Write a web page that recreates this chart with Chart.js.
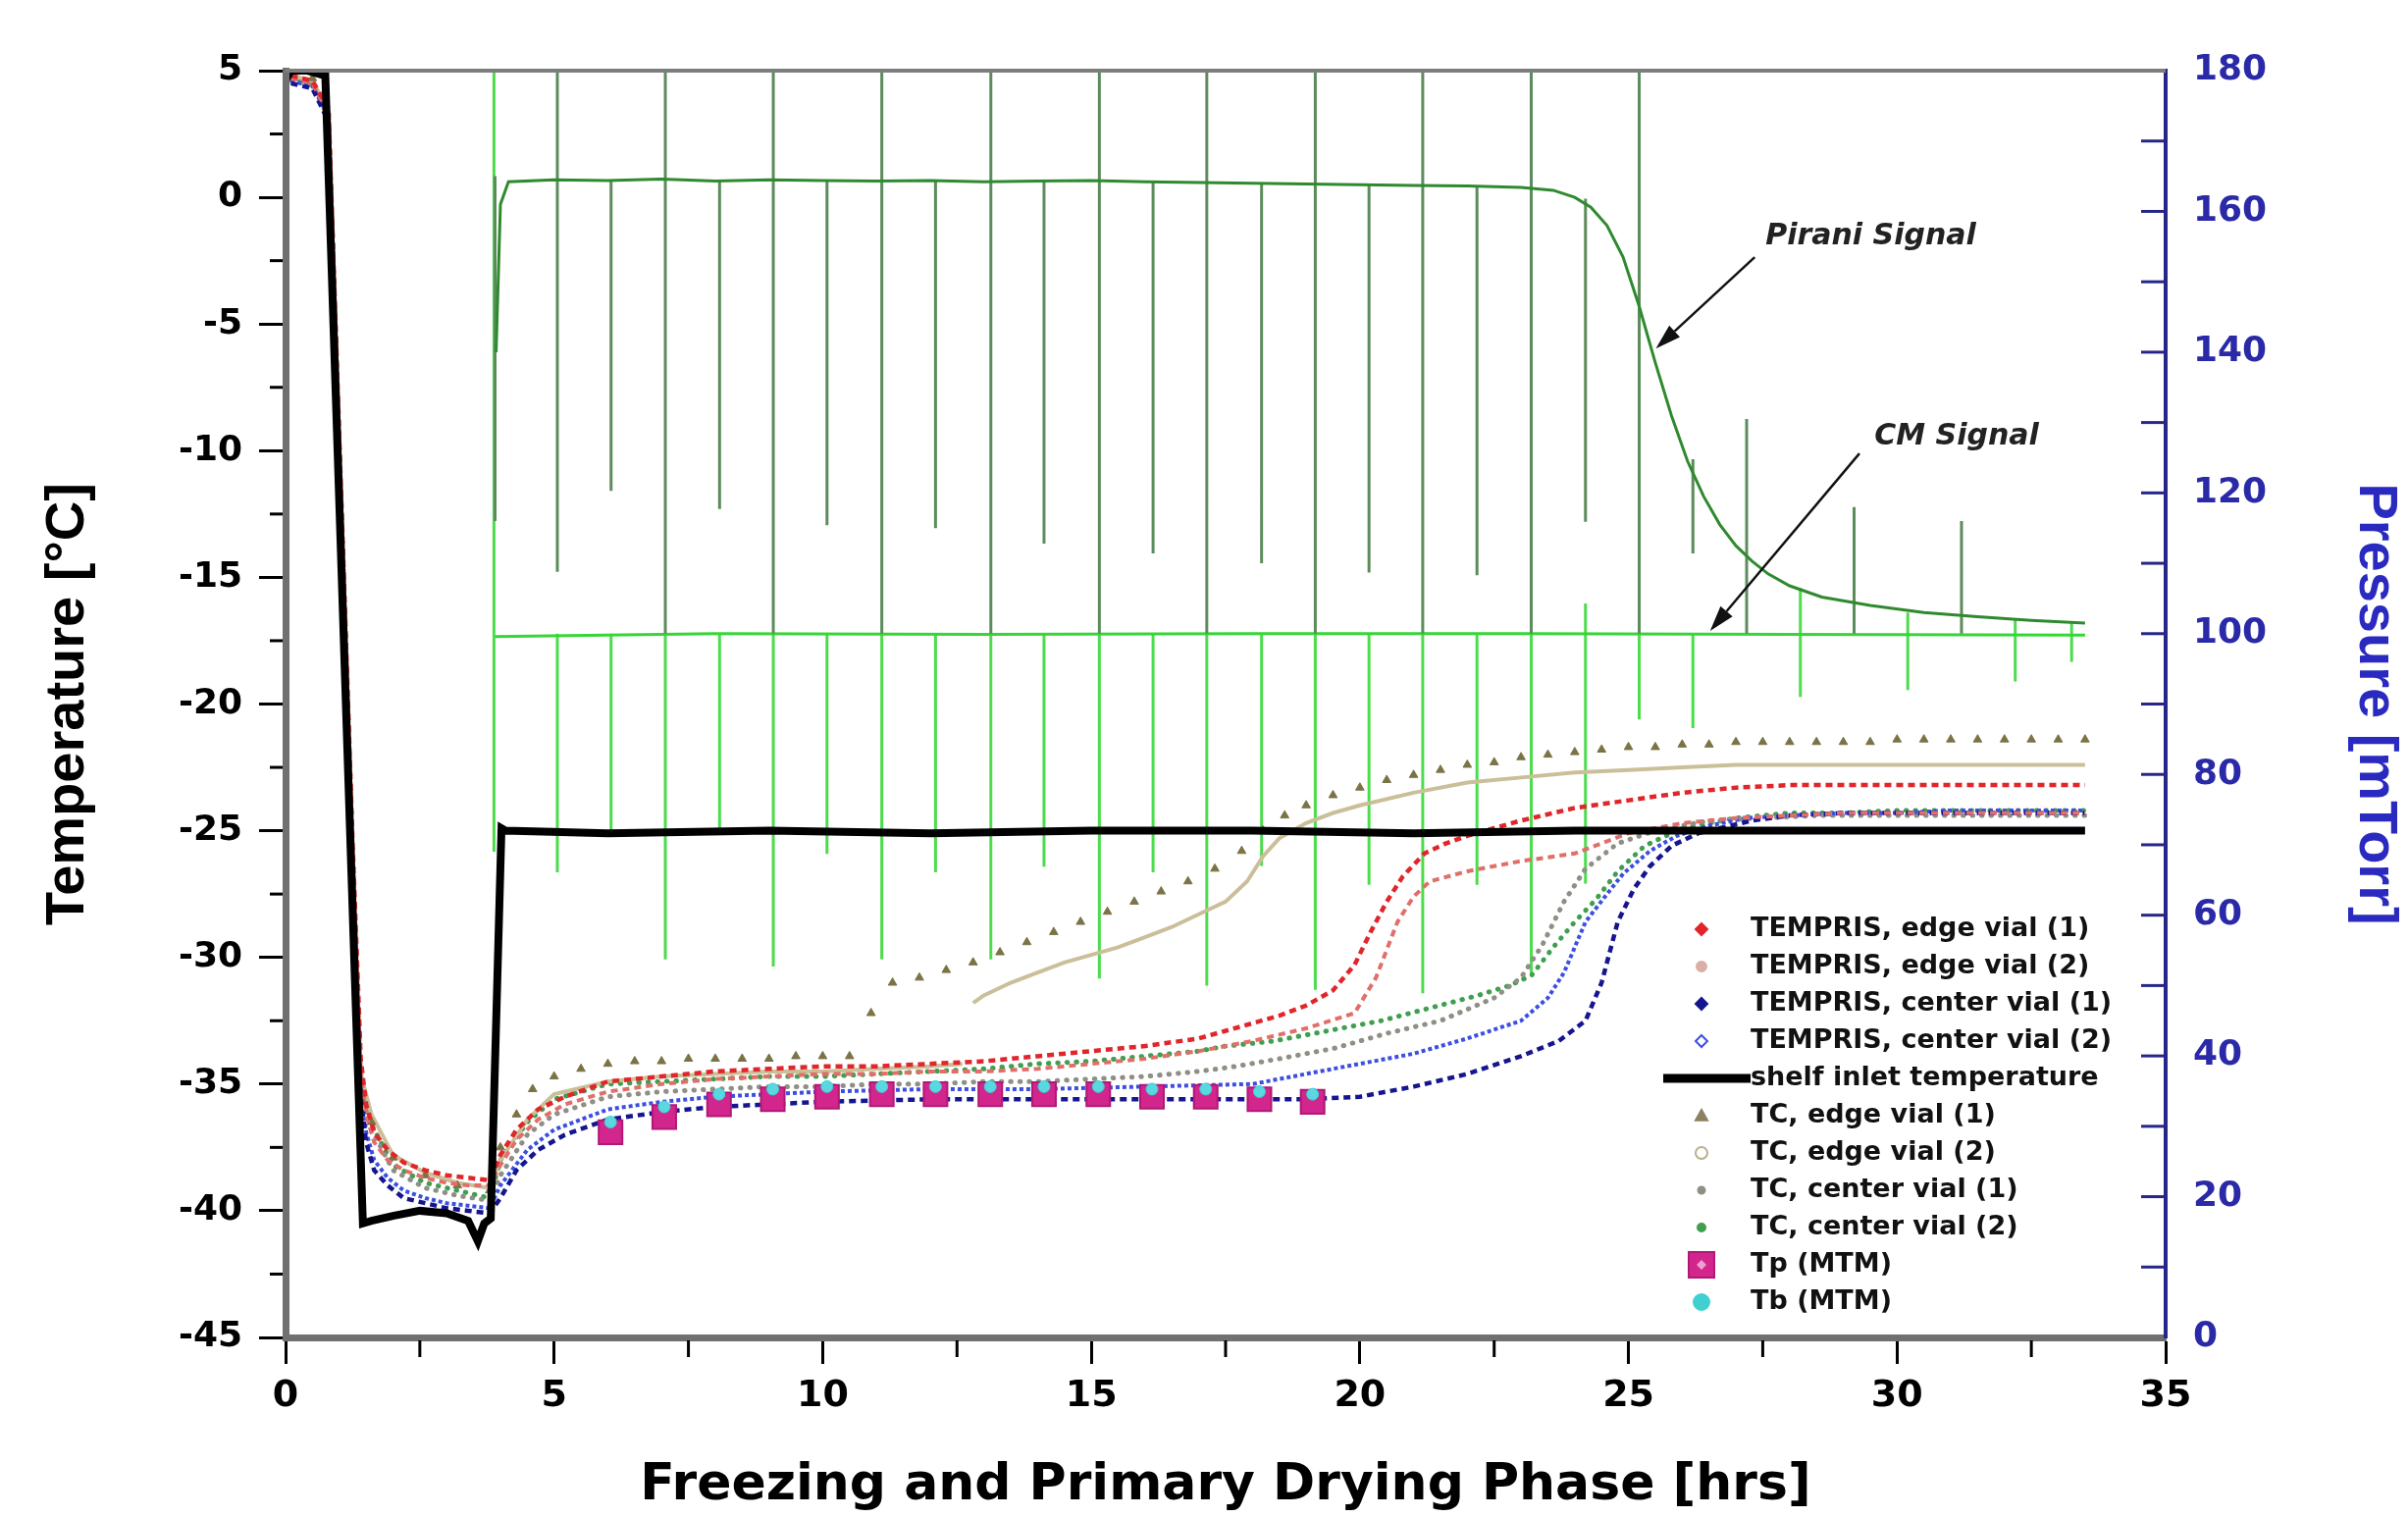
<!DOCTYPE html>
<html><head><meta charset="utf-8">
<script src="https://cdn.jsdelivr.net/npm/chart.js@4.4.0/dist/chart.umd.min.js"></script>
<style>html,body{margin:0;padding:0;background:#fff}canvas{display:block}</style>
</head><body>
<canvas id="c" width="2454" height="1546" style="width:2454px;height:1546px"></canvas>
<script>
// ---------------- data ----------------
const hoursEdge1 = [0.1,0.5,0.8,0.95,1.1,1.25,1.4,1.5,1.65,1.9,2.2,2.6,3.0,3.4,3.8,4.0,4.3,4.7,5.2,6,7,8,9,10,11,12,13,14,15,16,17,18,18.5,19,19.5,19.9,20.2,20.5,20.8,21.2,21.6,22,22.5,23,24,25,26,27,28,29,30,31,32,33,33.5];
const tempEdge1  = [4.8,4.6,3.5,-6.2,-15.9,-25.6,-34.0,-35.8,-36.9,-37.6,-38.1,-38.4,-38.6,-38.7,-38.8,-37.8,-36.8,-36.0,-35.5,-34.9,-34.7,-34.5,-34.4,-34.3,-34.3,-34.2,-34.1,-33.9,-33.7,-33.5,-33.2,-32.6,-32.3,-31.9,-31.3,-30.3,-29.0,-27.8,-26.8,-25.9,-25.5,-25.2,-24.9,-24.6,-24.1,-23.8,-23.5,-23.3,-23.2,-23.2,-23.2,-23.2,-23.2,-23.2,-23.2];

const hoursEdge2 = [0.1,0.5,0.8,0.95,1.1,1.25,1.4,1.5,1.65,1.9,2.2,2.6,3.0,3.4,3.8,4.0,4.3,4.7,5.2,6,7,8,9,10,11,12,13,14,15,16,17,18,19,19.9,20.3,20.7,21.0,21.3,22,23,24,25,26,27,28,29,30,31,32,33,33.5];
const tempEdge2  = [4.7,4.5,3.3,-6.5,-16.2,-26,-34.4,-36.2,-37.3,-38.0,-38.4,-38.7,-38.9,-39.0,-39.0,-38.2,-37.2,-36.4,-35.8,-35.3,-35.0,-34.8,-34.7,-34.6,-34.6,-34.5,-34.5,-34.4,-34.2,-34.0,-33.7,-33.3,-32.8,-32.2,-30.8,-28.6,-27.6,-27.0,-26.6,-26.2,-25.9,-25.1,-24.7,-24.5,-24.4,-24.3,-24.3,-24.3,-24.3,-24.3,-24.3];

const hoursCenter1 = [0.1,0.5,0.8,0.95,1.1,1.25,1.4,1.5,1.65,1.9,2.2,2.6,3.0,3.4,3.8,4.0,4.3,4.7,5.2,6,7,8,9,10,12,14,16,18,19,20,21,22,23,23.7,24.2,24.5,24.8,25.1,25.4,25.8,26.3,27.3,28,29,30,31,32,33,33.5];
const tempCenter1  = [4.5,4.3,3.0,-7,-17,-27,-35.5,-37.3,-38.4,-39.0,-39.5,-39.7,-39.9,-40.0,-40.1,-39.5,-38.4,-37.6,-37.0,-36.4,-36.1,-35.9,-35.8,-35.7,-35.6,-35.6,-35.6,-35.6,-35.6,-35.5,-35.1,-34.6,-33.9,-33.3,-32.5,-31.0,-28.6,-27.3,-26.4,-25.6,-25.1,-24.6,-24.4,-24.3,-24.3,-24.3,-24.3,-24.3,-24.3];

const hoursCenter2 = [0.1,0.5,0.8,0.95,1.1,1.25,1.4,1.5,1.65,1.9,2.2,2.6,3.0,3.4,3.8,4.0,4.5,5,6,7,8,10,12,14,16,18,19,20,21,22,23,23.5,23.8,24.2,24.6,24.9,25.4,25.9,26.5,27.2,28,29,30,31,32,33,33.5];
const tempCenter2  = [4.6,4.4,3.2,-6.8,-16.6,-26.5,-35.0,-36.9,-38.0,-38.7,-39.2,-39.5,-39.7,-39.8,-39.9,-39.0,-37.6,-36.8,-36.0,-35.7,-35.5,-35.3,-35.2,-35.2,-35.1,-35.0,-34.6,-34.2,-33.8,-33.2,-32.5,-31.6,-30.6,-28.6,-27.5,-26.7,-25.8,-25.2,-24.8,-24.5,-24.4,-24.3,-24.3,-24.2,-24.2,-24.2,-24.2];

const hoursShelf = [0,0.1,0.4,0.74,1.44,1.6,2.0,2.5,3.0,3.4,3.58,3.7,3.82,4.02,4.1,6,9,12,15,18,21,24,27,30,33.5];
const tempShelf  = [4.6,5.0,5.0,4.8,-40.5,-40.4,-40.2,-40.0,-40.1,-40.4,-41.2,-40.5,-40.3,-24.9,-25.0,-25.1,-25.0,-25.1,-25.0,-25.0,-25.1,-25.0,-25.0,-25.0,-25.0];

const hoursTcEdge1 = [0.1,0.5,1.6,2.0,2.6,3.2,3.8,4.0,4.3,4.6,5.0,5.5,6.0,6.5,7.0,7.5,8.0,8.5,9.0,9.5,10.0,10.5,10.9,11.3,11.8,12.3,12.8,13.3,13.8,14.3,14.8,15.3,15.8,16.3,16.8,17.3,17.8,18.2,18.6,19.0,19.5,20.0,20.5,21.0,21.5,22.0,22.5,23.0,23.5,24.0,24.5,25.0,25.5,26.0,26.5,27.0,27.5,28.0,28.5,29.0,29.5,30.0,30.5,31.0,31.5,32.0,32.5,33.0,33.5];
const tempTcEdge1  = [4.9,4.7,-36.5,-37.9,-38.6,-39.0,-39.2,-37.5,-36.2,-35.2,-34.7,-34.4,-34.2,-34.1,-34.1,-34.0,-34.0,-34.0,-34.0,-33.9,-33.9,-33.9,-32.2,-31.0,-30.8,-30.5,-30.2,-29.8,-29.4,-29.0,-28.6,-28.2,-27.8,-27.4,-27.0,-26.5,-25.8,-25.0,-24.4,-24.0,-23.6,-23.3,-23.0,-22.8,-22.6,-22.4,-22.3,-22.1,-22.0,-21.9,-21.8,-21.7,-21.7,-21.6,-21.6,-21.5,-21.5,-21.5,-21.5,-21.5,-21.5,-21.4,-21.4,-21.4,-21.4,-21.4,-21.4,-21.4,-21.4];

const hoursTcEdge2 = [0.1,0.5,0.8,0.95,1.1,1.25,1.4,1.6,2.0,2.6,3.2,3.8,4.0,4.5,5,6,7,8,9,10,11,12,12.6,12.7,12.8,13.0,13.5,14,14.5,15,15.5,16,16.5,17,17.5,17.9,18.2,18.5,19,19.5,20,21,22,23,24,25,26,27,28,30,32,33.5];
const tempTcEdge2  = [4.8,4.6,3.4,-6.4,-16,-25.8,-34.6,-36.2,-37.8,-38.5,-38.9,-39.1,-38.0,-36.4,-35.4,-34.9,-34.7,-34.6,-34.5,-34.5,-34.4,-34.3,-34.2,null,-31.8,-31.5,-31.0,-30.6,-30.2,-29.9,-29.6,-29.2,-28.8,-28.3,-27.8,-27.0,-26.0,-25.3,-24.7,-24.3,-24.0,-23.5,-23.1,-22.9,-22.7,-22.6,-22.5,-22.4,-22.4,-22.4,-22.4,-22.4];

const hoursTcCenter1 = [0.1,0.5,0.8,0.95,1.1,1.25,1.4,1.6,2.0,2.6,3.2,3.8,4.0,4.5,5,6,7,8,9,10,11,12,13,14,15,16,17,17.7,18.5,19.5,20.5,21.5,22.5,23.0,23.4,23.8,24.2,24.8,25.5,26.5,27.5,28.5,29.5,30.5,31.5,32.5,33.5];
const tempTcCenter1  = [4.6,4.4,3.2,-6.8,-16.5,-26.3,-35.2,-36.8,-38.4,-39.1,-39.4,-39.6,-38.6,-37.0,-36.2,-35.5,-35.3,-35.2,-35.1,-35.1,-35.0,-35.0,-34.9,-34.9,-34.8,-34.7,-34.5,-34.3,-34.0,-33.6,-33.0,-32.5,-31.6,-30.8,-29.5,-27.8,-26.5,-25.5,-25.0,-24.6,-24.5,-24.4,-24.4,-24.4,-24.4,-24.4,-24.4];

const hoursTcCenter2 = [0.1,0.5,0.8,0.95,1.1,1.25,1.4,1.6,2.0,2.6,3.2,3.8,4.0,4.5,5,6,7,8,9,10,11,12,13,14,15,16,17,17.5,18.4,19.4,20.4,21.3,22.2,22.8,23.2,23.6,24.0,24.4,24.8,25.3,26,27,28,29,30,31,32,33,33.5];
const tempTcCenter2  = [4.7,4.5,3.3,-6.6,-16.3,-26,-35,-36.6,-38.2,-38.9,-39.2,-39.5,-38.0,-36.5,-35.6,-35.0,-34.9,-34.8,-34.7,-34.7,-34.6,-34.5,-34.4,-34.2,-34.1,-33.9,-33.7,-33.5,-33.3,-32.9,-32.5,-32.0,-31.5,-31.1,-30.7,-29.6,-28.6,-27.7,-26.6,-25.6,-24.9,-24.5,-24.3,-24.3,-24.2,-24.2,-24.2,-24.2,-24.2];

const hoursMtm = [6.05,7.05,8.07,9.07,10.08,11.1,12.1,13.12,14.12,15.13,16.13,17.13,18.13,19.12];
const tempTp   = [-36.9,-36.3,-35.8,-35.6,-35.5,-35.4,-35.4,-35.4,-35.4,-35.4,-35.5,-35.5,-35.6,-35.7];
const tempTb   = [-36.5,-35.9,-35.4,-35.2,-35.1,-35.1,-35.1,-35.1,-35.1,-35.1,-35.2,-35.2,-35.3,-35.4];

const piraniHours  = [3.92,4.0,4.15,5,6,7,8,9,10,11,12,13,14,15,16,17,18,19,20,21,22,23,23.6,24.0,24.3,24.6,24.9,25.2,25.5,25.8,26.1,26.4,26.7,27.0,27.3,27.6,28.0,28.6,29.5,30.5,31.5,32.5,33.5];
const piraniValues = [140,161,164.2,164.5,164.4,164.6,164.3,164.5,164.4,164.3,164.4,164.2,164.3,164.4,164.2,164.1,164.0,163.9,163.8,163.7,163.6,163.4,163.0,162.0,160.6,158.0,153.5,146.5,138.5,131.0,124.5,119.5,115.5,112.5,110.3,108.5,106.8,105.2,104.0,103.0,102.4,101.9,101.5];
const piraniSpikeHours  = [3.9,5.06,6.06,7.07,8.08,9.08,10.08,11.1,12.1,13.13,14.12,15.15,16.15,17.15,18.17,19.17,20.17,21.17,22.18,23.19,24.2,25.2,26.2,27.2,29.2,31.2];
const piraniSpikeTop    = [165,182,164.4,182,164.5,182,164.4,182,164.4,182,164.3,182,164.2,182,164.0,182,163.8,182,163.6,182,161.8,182,124.8,130.5,118,116];
const piraniSpikeBottom = [116,108.8,120.3,100,117.7,100,115.4,100,115,100,112.8,100,111.4,100,110,100,108.7,100,108.3,100,115.9,100,111.4,100,100,100];

const cmHours  = [3.9,8,13,18,23,28,33.5];
const cmValues = [99.6,100,99.9,100,100,99.9,99.8];
const cmSpikeHours  = [3.88,5.06,6.06,7.07,8.08,9.08,10.08,11.1,12.1,13.13,14.12,15.15,16.15,17.15,18.17,19.17,20.17,21.17,22.18,23.19,24.2,25.2,26.2,28.2,30.2,32.2,33.25];
const cmSpikeTop    = [182,100,100,100,100,100,100,100,100,100,100,100,100,100,100,100,100,100,100,100,104.3,100,100,106.5,103,102,101.5];
const cmSpikeBottom = [69,66.1,71.4,53.7,71.4,52.7,68.7,53.7,66.1,53.7,66.9,51,66.1,50,67,49.4,64.3,48.9,64.3,51.4,64.5,87.8,86.6,91,92,93.2,96];

const xMinorTicks = [2.5,7.5,12.5,17.5,22.5,27.5,32.5];
const tempMinorTicks = [2.5,-2.5,-7.5,-12.5,-17.5,-22.5,-27.5,-32.5,-37.5,-42.5];
const pressureTicks = [10,20,30,40,50,60,70,80,90,100,110,120,130,140,150,160,170];

const annotationLabels   = ['Pirani Signal','CM Signal'];
const annotationHours    = [27.55,29.58];
const annotationPressure = [156.4,128];
const arrowFromHours = [27.35,29.3], arrowFromPressure = [153.5,125.6];
const arrowToHours   = [25.51,26.52], arrowToPressure   = [140.5,100.4];

// ---------------- helpers ----------------
const pts = (ts, vs) => ts.map((t, i) => ({x: t, y: vs[i]}));
const spikes = (ts, hi, lo) => { const o = []; ts.forEach((t, i) => { o.push({x: t, y: hi[i]}, {x: t, y: lo[i]}, {x: t, y: null}); }); return o; };

const BLUE = '#2a2aa8';
const tickFont = {family: 'DejaVu Sans', weight: 'bold', size: 36};

const datasets = [
  {label:'TEMPRIS, edge vial (1)', data: pts(hoursEdge1,tempEdge1), yAxisID:'y', borderColor:'#e0262b', backgroundColor:'#e0262b', borderWidth:4.5, borderDash:[7,5], pointRadius:0, order:3,
   lg:{shape:'diamond', size:6, fill:'#e0262b', stroke:'#e0262b'}},
  {label:'TEMPRIS, edge vial (2)', data: pts(hoursEdge2,tempEdge2), yAxisID:'y', borderColor:'#e06f6a', backgroundColor:'#e06f6a', borderWidth:4, borderDash:[7,5], pointRadius:0, order:4,
   lg:{shape:'circle', size:5, fill:'#d8b0a8', stroke:'#d8b0a8'}},
  {label:'TEMPRIS, center vial (1)', data: pts(hoursCenter1,tempCenter1), yAxisID:'y', borderColor:'#15158f', backgroundColor:'#15158f', borderWidth:4.5, borderDash:[7,5], pointRadius:0, order:5,
   lg:{shape:'diamond', size:6, fill:'#15158f', stroke:'#15158f'}},
  {label:'TEMPRIS, center vial (2)', data: pts(hoursCenter2,tempCenter2), yAxisID:'y', borderColor:'#3c4fe0', backgroundColor:'#3c4fe0', borderWidth:4, borderDash:[4,3], pointRadius:0, order:6,
   lg:{shape:'diamond', size:6, fill:'#ffffff', stroke:'#3c4fe0'}},
  {label:'shelf inlet temperature', data: pts(hoursShelf,tempShelf), yAxisID:'y', borderColor:'#000', backgroundColor:'#000', borderWidth:8, pointRadius:0, order:2,
   lg:{shape:'line', size:9, stroke:'#000'}},
  {label:'TC, edge vial (1)', data: pts(hoursTcEdge1,tempTcEdge1), yAxisID:'y', showLine:false, pointStyle:'triangle', pointRadius:5, borderColor:'#7b7346', backgroundColor:'#7b7346', borderWidth:1, order:7,
   lg:{shape:'triangle', size:6, fill:'#8a8260', stroke:'#8a8260'}},
  {label:'TC, edge vial (2)', data: pts(hoursTcEdge2,tempTcEdge2), yAxisID:'y', borderColor:'#cbbf9a', backgroundColor:'#cbbf9a', borderWidth:4, pointRadius:0, spanGaps:false, order:8,
   lg:{shape:'circle', size:6, fill:'#ffffff', stroke:'#b8b090'}},
  {label:'TC, center vial (1)', data: pts(hoursTcCenter1,tempTcCenter1), yAxisID:'y', borderColor:'#8f8f86', backgroundColor:'#8f8f86', borderWidth:5, borderDash:[0.5,9], borderCapStyle:'round', pointRadius:0, order:9,
   lg:{shape:'circle', size:3.5, fill:'#8f8f86', stroke:'#8f8f86'}},
  {label:'TC, center vial (2)', data: pts(hoursTcCenter2,tempTcCenter2), yAxisID:'y', borderColor:'#3f9f4f', backgroundColor:'#3f9f4f', borderWidth:5, borderDash:[0.5,9], borderCapStyle:'round', pointRadius:0, order:10,
   lg:{shape:'circle', size:4, fill:'#3f9f4f', stroke:'#3f9f4f'}},
  {label:'Tp (MTM)', data: pts(hoursMtm,tempTp), yAxisID:'y', showLine:false, pointStyle:'rect', pointRadius:17, borderColor:'#b01878', backgroundColor:'#d3268d', borderWidth:2, order:1,
   lg:{shape:'square', size:13, fill:'#d3268d', stroke:'#b01878'}},
  {label:'Tb (MTM)', data: pts(hoursMtm,tempTb), yAxisID:'y', showLine:false, pointStyle:'circle', pointRadius:6, borderColor:'#39d0d8', backgroundColor:'#5ad8e0', borderWidth:1, order:0,
   lg:{shape:'circle', size:8, fill:'#40d0d0', stroke:'#40d0d0'}},
  {label:'Pirani Signal', data: pts(piraniHours,piraniValues), yAxisID:'y2', borderColor:'#2f8a2f', borderWidth:3, pointRadius:0, order:11},
  {label:'Pirani spikes', data: spikes(piraniSpikeHours,piraniSpikeTop,piraniSpikeBottom), yAxisID:'y2', borderColor:'#5c8c5c', borderWidth:3, pointRadius:0, spanGaps:false, order:12},
  {label:'CM Signal', data: pts(cmHours,cmValues), yAxisID:'y2', borderColor:'#36d636', borderWidth:3, pointRadius:0, order:13},
  {label:'CM spikes', data: spikes(cmSpikeHours,cmSpikeTop,cmSpikeBottom), yAxisID:'y2', borderColor:'#4cdc4c', borderWidth:3, pointRadius:0, spanGaps:false, order:14}
];

function marker(ctx, m, x, y) {
  ctx.save();
  ctx.fillStyle = m.fill || m.stroke; ctx.strokeStyle = m.stroke; ctx.lineWidth = 2;
  const s = m.size;
  ctx.beginPath();
  if (m.shape === 'diamond') { ctx.moveTo(x, y - s); ctx.lineTo(x + s, y); ctx.lineTo(x, y + s); ctx.lineTo(x - s, y); ctx.closePath(); }
  else if (m.shape === 'triangle') { ctx.moveTo(x, y - s); ctx.lineTo(x + s, y + s * 0.8); ctx.lineTo(x - s, y + s * 0.8); ctx.closePath(); }
  else if (m.shape === 'square') { ctx.rect(x - s, y - s, 2 * s, 2 * s); }
  else { ctx.arc(x, y, s, 0, Math.PI * 2); }
  ctx.fill(); ctx.stroke();
  if (m.shape === 'square') {
    ctx.fillStyle = '#f0a0d0';
    ctx.beginPath(); ctx.moveTo(x, y - 5); ctx.lineTo(x + 5, y); ctx.lineTo(x, y + 5); ctx.lineTo(x - 5, y); ctx.closePath(); ctx.fill();
  }
  ctx.restore();
}

const insideLegend = {
  id: 'insideLegend',
  afterDraw(chart) {
    const {ctx, chartArea: ca} = chart;
    const items = chart.data.datasets.filter(d => d.lg);
    const x0 = ca.right - 473, y0 = ca.bottom - 416, row = 38;
    ctx.save();
    ctx.font = 'bold 27px "DejaVu Sans"';
    ctx.textBaseline = 'middle'; ctx.textAlign = 'left';
    items.forEach((d, i) => {
      const y = y0 + i * row;
      if (d.lg.shape === 'line') {
        ctx.strokeStyle = d.lg.stroke; ctx.lineWidth = d.lg.size;
        ctx.beginPath(); ctx.moveTo(x0 - 39, y); ctx.lineTo(x0 + 50, y); ctx.stroke();
      } else {
        marker(ctx, d.lg, x0, y);
      }
      ctx.fillStyle = '#111';
      ctx.fillText(d.label, x0 + 50, y);
    });
    ctx.restore();
  }
};

const annotations = {
  id: 'annotations',
  afterDraw(chart) {
    const {ctx, scales: {x, y2}} = chart;
    ctx.save();
    ctx.font = 'italic bold 30px "DejaVu Sans"';
    ctx.textBaseline = 'middle'; ctx.textAlign = 'left';
    annotationLabels.forEach((t, i) => {
      ctx.fillStyle = '#222';
      ctx.fillText(t, x.getPixelForValue(annotationHours[i]), y2.getPixelForValue(annotationPressure[i]));
      const x1 = x.getPixelForValue(arrowFromHours[i]), yA = y2.getPixelForValue(arrowFromPressure[i]);
      const x2 = x.getPixelForValue(arrowToHours[i]), yB = y2.getPixelForValue(arrowToPressure[i]);
      const ang = Math.atan2(yB - yA, x2 - x1), L = 26, W = 8;
      const bx = x2 - L * Math.cos(ang), by = yB - L * Math.sin(ang);
      ctx.strokeStyle = '#111'; ctx.lineWidth = 2.5;
      ctx.beginPath(); ctx.moveTo(x1, yA); ctx.lineTo(bx, by); ctx.stroke();
      ctx.fillStyle = '#111';
      ctx.beginPath(); ctx.moveTo(x2, yB);
      ctx.lineTo(bx + W * Math.sin(ang), by - W * Math.cos(ang));
      ctx.lineTo(bx - W * Math.sin(ang), by + W * Math.cos(ang));
      ctx.closePath(); ctx.fill();
    });
    ctx.restore();
  }
};

const decor = {
  id: 'decor',
  afterDraw(chart) {
    const {ctx, chartArea: ca, scales: {x, y, y2}} = chart;
    const seg = (a, b, c, d) => { ctx.beginPath(); ctx.moveTo(a, b); ctx.lineTo(c, d); ctx.stroke(); };
    ctx.save();
    ctx.strokeStyle = '#7d7d7d'; ctx.lineWidth = 4;
    seg(ca.left, ca.top, ca.right, ca.top);
    ctx.strokeStyle = '#000'; ctx.lineWidth = 3;
    tempMinorTicks.forEach(v => { const p = y.getPixelForValue(v); seg(ca.left - 16, p, ca.left - 3, p); });
    xMinorTicks.forEach(v => { const p = x.getPixelForValue(v); seg(p, ca.bottom + 3, p, ca.bottom + 20); });
    ctx.strokeStyle = '#26268a'; ctx.lineWidth = 3;
    pressureTicks.forEach(v => { const p = y2.getPixelForValue(v); seg(ca.right - 25, p, ca.right, p); });
    ctx.restore();
  }
};

new Chart(document.getElementById('c'), {
  type: 'line',
  data: {datasets},
  options: {
    responsive: false, devicePixelRatio: 1, animation: false,
    layout: {padding: {top: 72, left: 0, right: 0, bottom: 0}},
    plugins: {legend: {display: false}, tooltip: {enabled: false}},
    elements: {line: {tension: 0}},
    scales: {
      x: {type: 'linear', position: 'bottom', min: 0, max: 35,
          afterFit(s) { s.height = 183; },
          ticks: {stepSize: 5, font: {family: 'DejaVu Sans', weight: 'bold', size: 38}, color: '#000', padding: 10, maxRotation: 0},
          grid: {drawOnChartArea: false, drawTicks: true, tickLength: 27, tickWidth: 3, tickColor: '#000'},
          border: {display: true, color: '#707070', width: 7, z: 1},
          title: {display: true, text: 'Freezing and Primary Drying Phase [hrs]', color: '#000',
                  font: {family: 'DejaVu Sans', weight: 'bold', size: 52}, padding: {top: 0, bottom: 0}}},
      y: {type: 'linear', position: 'left', min: -45, max: 5,
          afterFit(s) { s.width = 291; },
          ticks: {stepSize: 5, font: tickFont, color: '#000', padding: 17},
          grid: {drawOnChartArea: false, drawTicks: true, tickLength: 27, tickWidth: 3, tickColor: '#000'},
          border: {display: true, color: '#707070', width: 7, z: 1},
          title: {display: true, text: 'Temperature [°C]', color: '#000',
                  font: {family: 'Liberation Sans', weight: 'bold', size: 56}, padding: {top: 36, bottom: 0}}},
      y2: {type: 'linear', position: 'right', min: 0, max: 180,
          afterFit(s) { s.width = 247; },
          ticks: {stepSize: 20, font: tickFont, color: BLUE, padding: 28},
          grid: {drawOnChartArea: false, drawTicks: false},
          border: {display: true, color: '#26268a', width: 4, z: 1},
          title: {display: true, text: 'Pressure [mTorr]', color: '#2a2ac0',
                  font: {family: 'Liberation Sans', weight: 'bold', size: 56}, padding: {top: 0, bottom: 0}}}
    }
  },
  plugins: [decor, annotations, insideLegend]
});
</script>
</body></html>
